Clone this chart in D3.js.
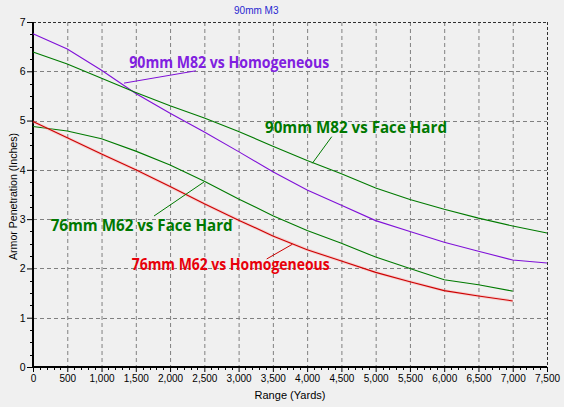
<!DOCTYPE html>
<html>
<head>
<meta charset="utf-8">
<script src="https://cdn.jsdelivr.net/npm/d3@7"></script>
<style>
  html, body { margin: 0; padding: 0; background: #f0f0f0; }
  svg { display: block; }
</style>
</head>
<body>
<svg id="chart" width="564" height="407"></svg>
<script>
// ---- data ----
const title = "90mm M3";
const xTitle = "Range (Yards)";
const yTitle = "Armor Penetration (Inches)";

const range90 = [0,500,1000,1500,2000,2500,3000,3500,4000,4500,5000,5500,6000,6500,7000,7500];
const range76 = [0,500,1000,1500,2000,2500,3000,3500,4000,4500,5000,5500,6000,6500,7000];

const m82Homog = [6.76,6.45,6.02,5.55,5.15,4.77,4.37,3.96,3.59,3.28,2.97,2.75,2.53,2.35,2.17,2.11];
const m82Face  = [6.39,6.15,5.86,5.57,5.30,5.05,4.78,4.48,4.19,3.92,3.63,3.40,3.20,3.02,2.86,2.72];
const m62Face  = [4.88,4.79,4.63,4.38,4.10,3.77,3.41,3.07,2.77,2.51,2.23,2.00,1.77,1.67,1.54];
const m62Homog = [4.98,4.65,4.32,4.00,3.66,3.31,2.98,2.66,2.38,2.15,1.92,1.73,1.55,1.44,1.34];

const xTicks = [0,500,1000,1500,2000,2500,3000,3500,4000,4500,5000,5500,6000,6500,7000,7500];
const yTicks = [0,1,2,3,4,5,6,7];

const seriesNames = ["90mm M82 vs Homogeneous","90mm M82 vs Face Hard","76mm M62 vs Face Hard","76mm M62 vs Homogeneous"];

// ---- layout / style ----
const colors = {
  "90mm M82 vs Homogeneous": {line:"#7f10d8", text:"#8020e0"},
  "90mm M82 vs Face Hard":   {line:"#007a00", text:"#007800"},
  "76mm M62 vs Face Hard":   {line:"#007a00", text:"#007800"},
  "76mm M62 vs Homogeneous": {line:"#cc0000", text:"#e8000a"}
};
// label anchors in data units: [labelX, labelY(baseline)], width px, leader from -> to
const labelLayout = {
  "90mm M82 vs Homogeneous": {x:1405, y:6.06, w:200, lead:[[2378,6.01],[1328,5.76]]},
  "90mm M82 vs Face Hard":   {x:3385, y:4.754, w:182, lead:[[4359,4.673],[4076,4.133]]},
  "76mm M62 vs Face Hard":   {x:258,  y:2.766, w:182, lead:[[1766,3.064],[2495,3.754]]},
  "76mm M62 vs Homogeneous": {x:1440, y:1.968, w:198, lead:[[3410,2.192],[3784,2.49]]}
};

const svg = d3.select("#chart");
const L = 33, R = 547, T = 22, B = 367;
const x = d3.scaleLinear().domain([0,7500]).range([L,R]);
const y = d3.scaleLinear().domain([0,7]).range([B,T]);
const font = "'Liberation Sans', Arial, sans-serif";

// grid
const grid = svg.append("g");
grid.selectAll("line.vx").data(xTicks.filter(d => d > 0 && d < 7500)).enter().append("line")
  .attr("x1", d => x(d)+0.5).attr("x2", d => x(d)+0.5).attr("y1", T).attr("y2", B)
  .attr("stroke", "#808080").attr("stroke-dasharray", "4,3").attr("stroke-width", 1);
grid.selectAll("line.hy").data(yTicks.filter(d => d > 0 && d < 7)).enter().append("line")
  .attr("y1", d => Math.round(y(d))+0.5).attr("y2", d => Math.round(y(d))+0.5).attr("x1", L).attr("x2", R)
  .attr("stroke", "#808080").attr("stroke-dasharray", "4,3").attr("stroke-width", 1);
// top & right frame (dashed)
svg.append("line").attr("x1", L).attr("x2", R).attr("y1", T+0.5).attr("y2", T+0.5)
  .attr("stroke", "#303030").attr("stroke-dasharray", "3,2");
svg.append("line").attr("x1", R+0.5).attr("x2", R+0.5).attr("y1", T).attr("y2", B)
  .attr("stroke", "#303030").attr("stroke-dasharray", "3,2");

// minor ticks
const minorX = d3.range(0, 7501, 100).filter(d => d % 500 !== 0);
const minorY = d3.range(0, 7.001, 0.25).filter(d => Math.abs(d - Math.round(d)) > 1e-6);
svg.append("g").selectAll("line").data(minorX).enter().append("line")
  .attr("x1", d => Math.round(x(d))+0.5).attr("x2", d => Math.round(x(d))+0.5)
  .attr("y1", B).attr("y2", B+3).attr("stroke", "#000");
svg.append("g").selectAll("line").data(minorY).enter().append("line")
  .attr("y1", d => Math.round(y(d))+0.5).attr("y2", d => Math.round(y(d))+0.5)
  .attr("x1", L-3).attr("x2", L).attr("stroke", "#000");

// axes
const xAxis = d3.axisBottom(x).tickValues(xTicks).tickFormat(d3.format(",")).tickSize(5).tickPadding(3);
const gx = svg.append("g").attr("transform", `translate(0,${B})`).call(xAxis);
gx.select(".domain").remove();
gx.selectAll("text").attr("font-family", font).attr("font-size", 10).attr("fill", "#000");
gx.selectAll(".tick line").attr("stroke", "#000");

const yAxis = d3.axisLeft(y).tickValues(yTicks).tickFormat(d3.format("d")).tickSize(6).tickPadding(1.5);
const gy = svg.append("g").attr("transform", `translate(${L},0)`).call(yAxis);
gy.select(".domain").remove();
gy.selectAll("text").attr("font-family", font).attr("font-size", 10.5).attr("fill", "#000");
gy.selectAll(".tick line").attr("stroke", "#000");

// solid left & bottom axis lines
svg.append("line").attr("x1", L).attr("x2", L).attr("y1", T).attr("y2", B+1).attr("stroke", "#000").attr("stroke-width", 2);
svg.append("line").attr("x1", L-1).attr("x2", R).attr("y1", B).attr("y2", B).attr("stroke", "#000").attr("stroke-width", 2);

// series
const series = [
  {name: seriesNames[0], xs: range90, ys: m82Homog},
  {name: seriesNames[1], xs: range90, ys: m82Face},
  {name: seriesNames[2], xs: range76, ys: m62Face},
  {name: seriesNames[3], xs: range76, ys: m62Homog}
];
const line = d3.line().x(d => x(d[0])).y(d => y(d[1]));
series.forEach(s => {
  const pts = s.xs.map((v, i) => [v, s.ys[i]]);
  if (s.name === seriesNames[3]) {
    svg.append("path").attr("d", line(pts)).attr("fill", "none")
      .attr("stroke", "#ff9090").attr("stroke-opacity", 0.35).attr("stroke-width", 3);
  }
  svg.append("path").attr("d", line(pts)).attr("fill", "none")
    .attr("stroke", colors[s.name].line).attr("stroke-width", 1.1);
});

// labels + leaders
seriesNames.forEach(n => {
  const lay = labelLayout[n];
  svg.append("line")
    .attr("x1", x(lay.lead[0][0])).attr("y1", y(lay.lead[0][1]))
    .attr("x2", x(lay.lead[1][0])).attr("y2", y(lay.lead[1][1]))
    .attr("stroke", colors[n].line).attr("stroke-width", 1);
  svg.append("text").text(n)
    .attr("x", x(lay.x)).attr("y", y(lay.y))
    .attr("font-family", "'Open Sans', 'DejaVu Sans', sans-serif")
    .attr("font-weight", 700).attr("font-size", 16.5)
    .attr("textLength", lay.w).attr("lengthAdjust", "spacingAndGlyphs")
    .attr("fill", colors[n].text);
});

// titles
svg.append("text").text(title).attr("x", 256.3).attr("y", 13.5).attr("text-anchor", "middle")
  .attr("font-family", font).attr("font-size", 10).attr("fill", "#2828d0");
svg.append("text").text(xTitle).attr("x", (L+R)/2).attr("y", 398.5).attr("text-anchor", "middle")
  .attr("font-family", font).attr("font-size", 10.5).attr("textLength", 71).attr("lengthAdjust", "spacingAndGlyphs").attr("fill", "#000");
svg.append("text").text(yTitle).attr("transform", "translate(16.5,196.5) rotate(-90)")
  .attr("text-anchor", "middle").attr("font-family", font).attr("font-size", 10.5)
  .attr("textLength", 127).attr("lengthAdjust", "spacingAndGlyphs").attr("fill", "#000");
</script>
</body>
</html>
